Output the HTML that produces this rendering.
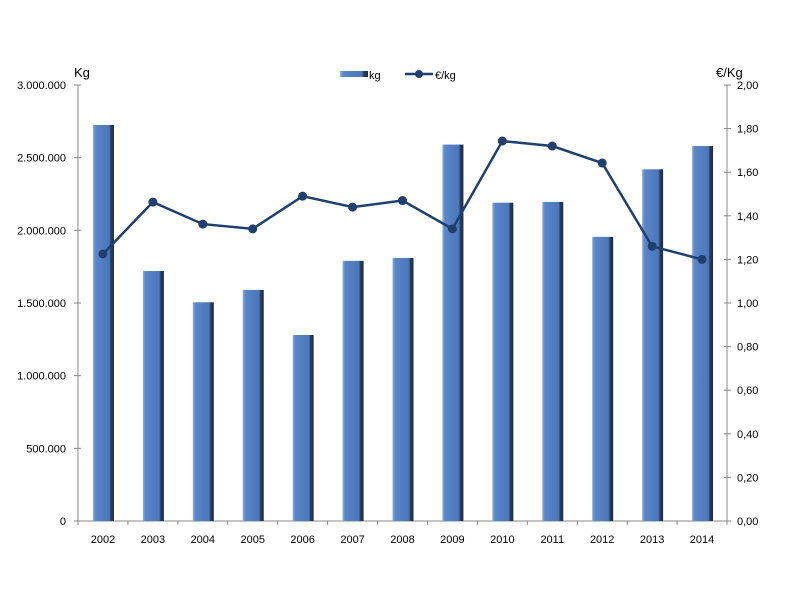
<!DOCTYPE html>
<html><head><meta charset="utf-8"><style>body{margin:0;background:#fff}svg{font-family:"Liberation Sans",sans-serif}</style></head>
<body>
<svg id="c" width="800" height="600">
<defs><linearGradient id="bg" x1="0" x2="1"><stop offset="0" stop-color="#8fb0dd"/><stop offset="0.12" stop-color="#5b87c9"/><stop offset="0.78" stop-color="#4a76ba"/><stop offset="0.85" stop-color="#2a3e5e"/><stop offset="1" stop-color="#1e2a40"/></linearGradient></defs>
</svg>
<script>
const years=["2002","2003","2004","2005","2006","2007","2008","2009","2010","2011","2012","2013","2014"];
const kg=[2725000,1720000,1505000,1590000,1280000,1790000,1810000,2590000,2190000,2195000,1955000,2420000,2580000];
const price=[1.225,1.463,1.362,1.34,1.49,1.44,1.47,1.34,1.743,1.72,1.642,1.26,1.20];
const leftTicks=["0","500.000","1.000.000","1.500.000","2.000.000","2.500.000","3.000.000"];
const rightTicks=["0,00","0,20","0,40","0,60","0,80","1,00","1,20","1,40","1,60","1,80","2,00"];
const svg=document.getElementById('c'),NS="http://www.w3.org/2000/svg";
const L=78,R=727,T=85,B=521,bw=(R-L)/years.length;
const yl=v=>B-v/3000000*(B-T), yr=v=>B-v/2*(B-T), xc=i=>L+bw*(i+0.5);
function el(t,a,p){const e=document.createElementNS(NS,t);for(const k in a)e.setAttribute(k,a[k]);(p||svg).appendChild(e);return e;}
function txt(s,a){const e=el('text',Object.assign({'font-size':11,fill:'#000'},a));e.textContent=s;return e;}
const ax=el('g',{});
el('line',{x1:L,y1:T,x2:L,y2:B,stroke:'#888'},ax);el('line',{x1:R,y1:T,x2:R,y2:B,stroke:'#888'},ax);el('line',{x1:L,y1:B,x2:R,y2:B,stroke:'#888'},ax);
leftTicks.forEach((t,i)=>{const y=yl(i*500000);el('line',{x1:L-4,y1:y,x2:L+3,y2:y,stroke:'#888'},ax);const e=txt(t,{x:L-12,y:y+4,'text-anchor':'end'});});
rightTicks.forEach((t,i)=>{const y=yr(i*0.2);el('line',{x1:R-3,y1:y,x2:R+4,y2:y,stroke:'#888'},ax);const e=txt(t,{x:R+10,y:y+4});});
years.forEach((t,i)=>{el('line',{x1:L+bw*i,y1:B,x2:L+bw*i,y2:B+4,stroke:'#888'},ax);const e=txt(t,{x:xc(i),y:B+22,'text-anchor':'middle'});});
el('line',{x1:R,y1:B,x2:R,y2:B+4,stroke:'#888'},ax);
let e=txt('Kg',{x:74,y:77,'font-size':13});
e=txt('€/Kg',{x:716,y:77,'font-size':13});
kg.forEach((v,i)=>{const b=el('rect',{x:xc(i)-10,y:yl(v),width:21,height:B-yl(v),fill:'url(#bg)'});});
const ln=el('polyline',{points:price.map((v,i)=>xc(i)+','+yr(v)).join(' '),fill:'none',stroke:'#1f3f6e','stroke-width':2.5});

price.forEach((v,i)=>{const c=el('circle',{cx:xc(i),cy:yr(v),r:4.5,fill:'#1f3f6e'});});
const lg=el('g',{});
el('rect',{x:340,y:71,width:28,height:6,fill:'url(#bg)'},lg);
e=txt('kg',{x:369,y:79,'font-size':11});lg.appendChild(e);
el('line',{x1:405,y1:74,x2:433,y2:74,stroke:'#1f3f6e','stroke-width':2.5},lg);el('circle',{cx:419,cy:74,r:4,fill:'#1f3f6e'},lg);
e=txt('€/kg',{x:435,y:79,'font-size':11});lg.appendChild(e);
</script>
</body></html>
